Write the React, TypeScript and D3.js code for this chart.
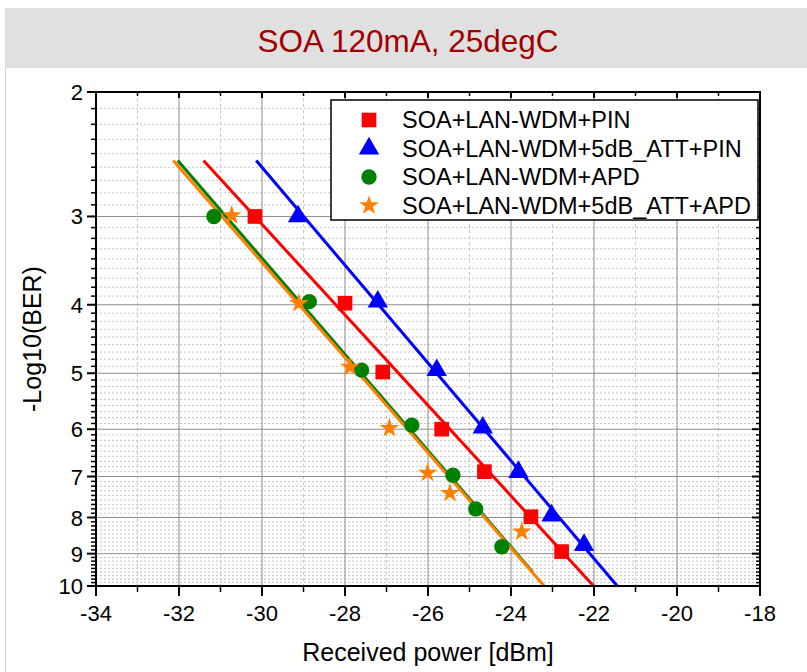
import React from "react";
import * as d3 from "d3";

// ---- Data ----
const seriesNames = [
  "SOA+LAN-WDM+PIN",
  "SOA+LAN-WDM+5dB_ATT+PIN",
  "SOA+LAN-WDM+APD",
  "SOA+LAN-WDM+5dB_ATT+APD",
];
const seriesColors = ["#ff0000", "#0000ff", "#008000", "#ff8000"];

// Received power [dBm]
const pinPower = [-30.17, -28.0, -27.09, -25.67, -24.64, -23.52, -22.78];
const pinBer = [3.0, 3.98, 4.98, 6.0, 6.89, 7.98, 8.94];

const attPinPower = [-29.13, -27.21, -25.79, -24.68, -23.82, -23.02, -22.24];
const attPinBer = [3.0, 3.96, 4.95, 5.97, 6.9, 7.95, 8.75];

const apdPower = [-31.16, -28.86, -27.6, -26.39, -25.4, -24.85, -24.22];
const apdBer = [3.0, 3.96, 4.95, 5.92, 6.97, 7.78, 8.8];

const attApdPower = [-30.73, -29.11, -27.88, -26.93, -26.01, -25.47, -23.74];
const attApdBer = [2.99, 3.98, 4.9, 5.98, 6.92, 7.39, 8.38];

// Linear fit lines: [start, end]
const pinFitPower = [-31.41, -22.01];
const pinFitBer = [2.5, 10];
const attPinFitPower = [-30.14, -21.44];
const attPinFitBer = [2.5, 10];
const apdFitPower = [-32.03, -23.48];
const apdFitBer = [2.5, 9.55];
const attApdFitPower = [-32.14, -23.2];
const attApdFitBer = [2.5, 10];

const xTickValues = [-34, -32, -30, -28, -26, -24, -22, -20, -18];
const yTickValues = [2, 3, 4, 5, 6, 7, 8, 9, 10];

const titleText = "SOA 120mA, 25degC";
const xLabel = "Received power [dBm]";
const yLabel = "-Log10(BER)";

const FONT = "'Liberation Sans', Arial, sans-serif";

export default function App() {
  const W = 807;
  const H = 672;
  const left = 96, right = 760, top = 92, bottom = 586;
  const x = d3.scaleLinear().domain([-34, -18]).range([left, right]);
  const y = d3.scaleLog().domain([2, 10]).range([top, bottom]);

  const xMinor = d3.range(-33, -18, 2);
  const yMinor: number[] = [];
  for (let i = 2; i < 10; i++) for (let k = 1; k <= 8; k++) yMinor.push(i + k / 9);

  const series = [
    { px: pinPower, py: pinBer, fx: pinFitPower, fy: pinFitBer, sym: d3.symbolSquare, size: 215 },
    { px: attPinPower, py: attPinBer, fx: attPinFitPower, fy: attPinFitBer, sym: d3.symbolTriangle, size: 180 },
    { px: apdPower, py: apdBer, fx: apdFitPower, fy: apdFitBer, sym: d3.symbolCircle, size: 185 },
    { px: attApdPower, py: attApdBer, fx: attApdFitPower, fy: attApdFitBer, sym: d3.symbolStar, size: 120 },
  ];

  const line = d3.line<[number, number]>().x((d) => x(d[0])).y((d) => y(d[1]));

  const legendX = 331, legendY = 100, legendW = 427, legendH = 120;
  const legendRows = [120, 148.5, 177, 205.5];

  return (
    <svg
      width={W}
      height={H}
      style={{ position: "absolute", left: 0, top: 0, background: "#fff" }}
      fontFamily={FONT}
    >
      <rect x={5} y={8} width={W - 5} height={60} fill="#e0e0e0" />
      <line x1={5.5} x2={5.5} y1={68} y2={H} stroke="#d4d4d4" strokeWidth={1} />
      <text x={408} y={52} textAnchor="middle" fontSize={31.5} fill="#a00000">
        {titleText}
      </text>

      {/* minor grid */}
      <g stroke="#c4c4c4" strokeWidth={1} strokeDasharray="2,2">
        {yMinor.map((v, i) => (
          <line key={"ym" + i} x1={left} x2={right} y1={y(v)} y2={y(v)} />
        ))}
        {xMinor.map((v, i) => (
          <line key={"xm" + i} x1={x(v)} x2={x(v)} y1={top} y2={bottom} strokeDasharray="3,3" />
        ))}
      </g>
      {/* major grid */}
      <g stroke="#8c8c8c" strokeWidth={1}>
        {yTickValues.slice(1, -1).map((v, i) => (
          <line key={"yg" + i} x1={left} x2={right} y1={y(v)} y2={y(v)} />
        ))}
        {xTickValues.slice(1, -1).map((v, i) => (
          <line key={"xg" + i} x1={x(v)} x2={x(v)} y1={top} y2={bottom} />
        ))}
      </g>

      {/* fit lines */}
      {series.map((s, i) => (
        <path
          key={"fit" + i}
          d={line(s.fx.map((v, j) => [v, s.fy[j]] as [number, number])) || ""}
          fill="none"
          stroke={seriesColors[i]}
          strokeWidth={3}
        />
      ))}
      {/* markers */}
      {series.map((s, i) => (
        <g key={"pts" + i} fill={seriesColors[i]}>
          {s.px.map((v, j) => (
            <path
              key={j}
              transform={`translate(${x(v)},${y(s.py[j])})`}
              d={d3.symbol().type(s.sym).size(s.size)() || ""}
            />
          ))}
        </g>
      ))}

      {/* axes */}
      <g stroke="#000">
        {yTickValues.map((v, i) => (
          <line key={"lt" + i} x1={left - 9} x2={left} y1={y(v)} y2={y(v)} strokeWidth={2} />
        ))}
        {yMinor.map((v, i) => (
          <line key={"ltm" + i} x1={left - 5} x2={left} y1={y(v)} y2={y(v)} strokeWidth={1.5} />
        ))}
        {yTickValues.map((v, i) => (
          <line key={"rt" + i} x1={right - 8} x2={right} y1={y(v)} y2={y(v)} strokeWidth={2} />
        ))}
        {yMinor.map((v, i) => (
          <line key={"rtm" + i} x1={right - 4} x2={right} y1={y(v)} y2={y(v)} strokeWidth={1.5} />
        ))}
        {xTickValues.map((v, i) => (
          <line key={"bt" + i} x1={x(v)} x2={x(v)} y1={bottom} y2={bottom + 10} strokeWidth={2} />
        ))}
        {xMinor.map((v, i) => (
          <line key={"btm" + i} x1={x(v)} x2={x(v)} y1={bottom} y2={bottom + 6} strokeWidth={1.5} />
        ))}
        {xTickValues.map((v, i) => (
          <line key={"tt" + i} x1={x(v)} x2={x(v)} y1={top} y2={top + 6} strokeWidth={2} />
        ))}
        {xMinor.map((v, i) => (
          <line key={"ttm" + i} x1={x(v)} x2={x(v)} y1={top} y2={top + 4} strokeWidth={1.5} />
        ))}
        <rect x={left} y={top} width={right - left} height={bottom - top} fill="none" strokeWidth={2} />
      </g>

      {/* tick labels */}
      <g fontSize={22} fill="#000">
        {yTickValues.map((v, i) => (
          <text key={"yl" + i} x={left - 13} y={y(v) + 8} textAnchor="end">
            {v}
          </text>
        ))}
        {xTickValues.map((v, i) => (
          <text key={"xl" + i} x={x(v)} y={621} textAnchor="middle">
            {v}
          </text>
        ))}
      </g>

      <text x={(left + right) / 2} y={661} textAnchor="middle" fontSize={25}>
        {xLabel}
      </text>
      <text
        transform={`translate(41,${(top + bottom) / 2}) rotate(-90)`}
        textAnchor="middle"
        fontSize={25}
      >
        {yLabel}
      </text>

      {/* legend */}
      <rect x={legendX} y={legendY} width={legendW} height={legendH} fill="#fff" stroke="#000" strokeWidth={1.5} />
      {seriesNames.map((name, i) => (
        <g key={"lg" + i}>
          <path
            transform={`translate(369,${legendRows[i]})`}
            d={d3.symbol().type(series[i].sym).size(series[i].size)() || ""}
            fill={seriesColors[i]}
          />
          <text x={402} y={legendRows[i] + 8} fontSize={23.5}>
            {name}
          </text>
        </g>
      ))}
    </svg>
  );
}
